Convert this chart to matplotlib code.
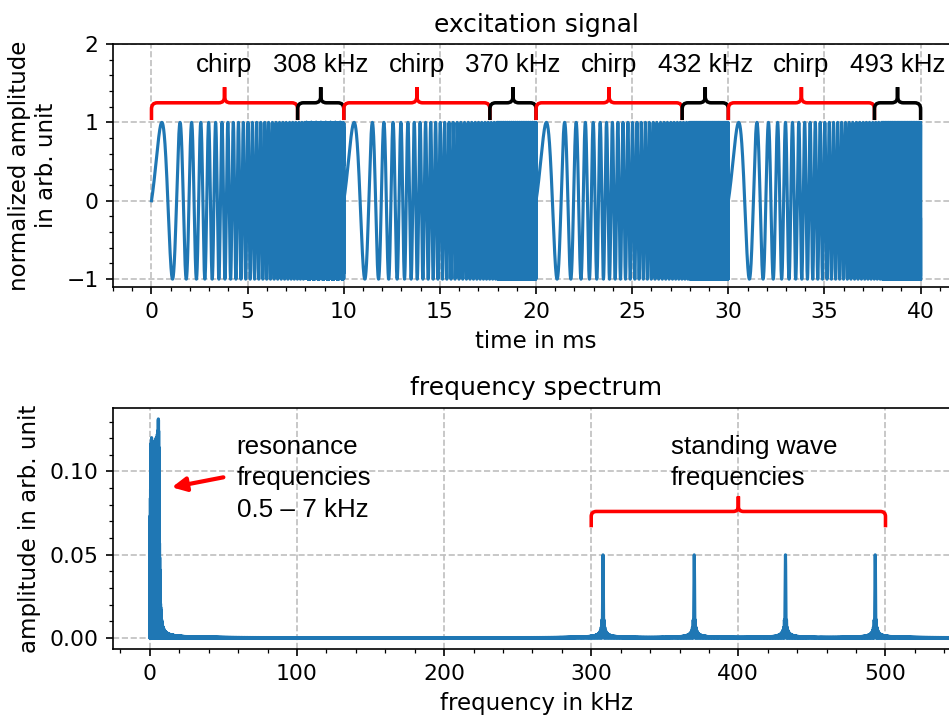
import numpy as np
import matplotlib.pyplot as plt
from matplotlib.path import Path
from matplotlib.patches import PathPatch

# signal parameters
seg_start = [0, 10, 20, 30]          # ms
seg_len = 10.0                       # ms
chirp_len = 8.0                      # ms
chirp_f = [0.25, 6.6]                # kHz
tone_f = [308, 370, 432, 493]        # kHz
tone_labels = ['308 kHz', '370 kHz', '432 kHz', '493 kHz']
brace_split = 7.6                    # ms, where the annotation braces meet
fs = 2000.0                          # sampling rate in kHz

t = np.arange(0, seg_len * len(seg_start), 1 / fs)
sig = np.zeros_like(t)
k = (chirp_f[1] - chirp_f[0]) / chirp_len
for t0, ft in zip(seg_start, tone_f):
    tau = t - t0
    m1 = (tau >= 0) & (tau < chirp_len)
    sig[m1] = np.sin(2 * np.pi * (chirp_f[0] * tau[m1] + 0.5 * k * tau[m1] ** 2))
    m2 = (tau >= chirp_len) & (tau < seg_len)
    sig[m2] = np.sin(2 * np.pi * ft * (tau[m2] - chirp_len))

spec = 2 * np.abs(np.fft.rfft(sig)) / len(sig)
freq = np.fft.rfftfreq(len(sig), d=1 / fs)


def brace(ax, x0, x1, ye, yl, yt, dx, hy, color):
    xm = 0.5 * (x0 + x1)
    verts = [(x0, ye), (x0, yl - hy), (x0, yl), (x0 + dx, yl),
             (xm - dx, yl), (xm, yl), (xm, yl + hy), (xm, yt),
             (xm, yl + hy), (xm, yl), (xm + dx, yl),
             (x1 - dx, yl), (x1, yl), (x1, yl - hy), (x1, ye)]
    codes = [Path.MOVETO, Path.LINETO, Path.CURVE3, Path.CURVE3,
             Path.LINETO, Path.CURVE3, Path.CURVE3, Path.LINETO,
             Path.LINETO, Path.CURVE3, Path.CURVE3,
             Path.LINETO, Path.CURVE3, Path.CURVE3, Path.LINETO]
    ax.add_patch(PathPatch(Path(verts, codes), fill=False, color=color,
                           lw=1.7, clip_on=False, zorder=5))


afont = ['Liberation Sans', 'DejaVu Sans']

fig = plt.figure(figsize=(949 / 150, 718 / 150), dpi=150)
ax1 = fig.add_axes([0.1191, 0.6003, 0.8915, 0.3384])
ax2 = fig.add_axes([0.1191, 0.0961, 0.8915, 0.3357])

# excitation signal
ax1.plot(t, sig, color='tab:blue')
ax1.set_xlim(-2, 42)
ax1.set_ylim(-1.1, 2)
ax1.set_yticks([-1, 0, 1, 2])
ax1.set_title('excitation signal', fontsize=12)
ax1.set_xlabel('time in ms', fontsize=11)
ax1.set_ylabel('normalized amplitude\nin arb. unit', fontsize=11)
for t0, lab in zip(seg_start, tone_labels):
    brace(ax1, t0, t0 + brace_split, 1.03, 1.25, 1.45, 0.3, 0.08, 'red')
    brace(ax1, t0 + brace_split, t0 + seg_len, 1.03, 1.25, 1.45, 0.3, 0.08, 'black')
    ax1.text(t0 + brace_split / 2, 1.64, 'chirp', ha='center', va='baseline',
             fontsize=12.5, family=afont)
    ax1.text(t0 + (brace_split + seg_len) / 2, 1.64, lab, ha='center', va='baseline',
             fontsize=12.5, family=afont)

# frequency spectrum
ax2.plot(freq, spec, color='tab:blue')
ax2.set_xlim(-25, 550)
ax2.set_title('frequency spectrum', fontsize=12)
ax2.set_xlabel('frequency in kHz', fontsize=11)
ax2.set_ylabel('amplitude in arb. unit', fontsize=11)
ax2.text(59, 0.0958, 'resonance\nfrequencies\n0.5 – 7 kHz', ha='left', va='center',
         fontsize=12.5, family=afont, linespacing=1.4)
ax2.annotate('', xy=(15, 0.0905), xytext=(50, 0.0965),
             arrowprops=dict(arrowstyle='-|>', color='red', lw=2, mutation_scale=14,
                             shrinkA=0, shrinkB=0))
brace(ax2, tone_f[0] - 8, tone_f[-1] + 7, 0.0665, 0.076, 0.085, 3.5, 0.003, 'red')
ax2.text(354, 0.1054, 'standing wave\nfrequencies', ha='left', va='center',
         fontsize=12.5, family=afont, linespacing=1.4)

for ax in (ax1, ax2):
    ax.minorticks_on()
    ax.grid(True, which='major', linestyle='--', color='0.75', lw=0.8)
    ax.tick_params(labelsize=10.5)

fig.savefig('out.png', dpi=150)
